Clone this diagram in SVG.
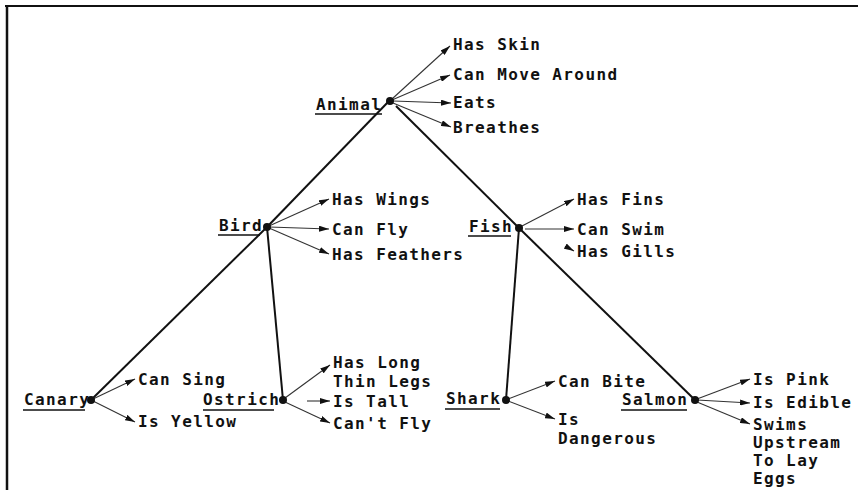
<svg xmlns="http://www.w3.org/2000/svg" width="858" height="490" viewBox="0 0 858 490">
<defs>
<marker id="ah" viewBox="0 0 10 6" refX="10" refY="3" markerWidth="10" markerHeight="6" markerUnits="userSpaceOnUse" orient="auto">
<path d="M0,0 L10,3 L0,6 z" fill="#111"/>
</marker>
<style>
text{font-family:"DejaVu Sans Mono","Liberation Mono",monospace;font-size:16px;font-weight:bold;letter-spacing:1.4px;fill:#111}
.edge{stroke:#111;stroke-width:2;fill:none}
.attr{stroke:#333;stroke-width:1.1;fill:none;marker-end:url(#ah)}
.ul{stroke:#111;stroke-width:1.6}
.dot{fill:#111}
</style>
</defs>
<rect width="858" height="490" fill="#fff"/>
<g id="frame">
<line x1="5" y1="6" x2="858" y2="6" stroke="#111" stroke-width="2"/>
<line x1="7" y1="5" x2="7" y2="490" stroke="#111" stroke-width="2.5"/>
</g>
<g id="connectors">
<line class="edge" x1="390" y1="100" x2="267" y2="227"/>
<line class="edge" x1="267" y1="227" x2="91" y2="400"/>
<line class="edge" x1="396" y1="106" x2="519" y2="228"/>
<line class="edge" x1="519" y1="228" x2="695" y2="400"/>
<line class="edge" x1="267" y1="227" x2="283" y2="400"/>
<line class="edge" x1="519" y1="228" x2="506" y2="400"/>
<line class="attr" x1="392" y1="99" x2="450" y2="46"/>
<line class="attr" x1="392" y1="100" x2="450" y2="75"/>
<line class="attr" x1="393" y1="101" x2="451" y2="103"/>
<line class="attr" x1="393" y1="103" x2="451" y2="127"/>
<line class="attr" x1="269" y1="226" x2="329" y2="199"/>
<line class="attr" x1="269" y1="227" x2="329" y2="229"/>
<line class="attr" x1="269" y1="228" x2="329" y2="254"/>
<line class="attr" x1="522" y1="226" x2="574" y2="199"/>
<line class="attr" x1="525" y1="229" x2="574" y2="229"/>
<line class="attr" x1="565" y1="246" x2="574" y2="251"/>
<line class="attr" x1="93" y1="399" x2="135" y2="379"/>
<line class="attr" x1="93" y1="401" x2="135" y2="422"/>
<line class="attr" x1="285" y1="398" x2="330" y2="365"/>
<line class="attr" x1="307" y1="401" x2="330" y2="401"/>
<line class="attr" x1="285" y1="402" x2="330" y2="423"/>
<line class="attr" x1="508" y1="399" x2="555" y2="381"/>
<line class="attr" x1="508" y1="401" x2="555" y2="419"/>
<line class="attr" x1="697" y1="399" x2="750" y2="379"/>
<line class="attr" x1="697" y1="400" x2="750" y2="403"/>
<line class="attr" x1="697" y1="402" x2="750" y2="424"/>
</g>
<g id="animal">
<circle class="dot" cx="390" cy="101" r="4"/>
<text x="316" y="110">Animal</text>
<line class="ul" x1="315" y1="114" x2="382" y2="114"/>
<text x="453" y="50">Has Skin</text>
<text x="453" y="80">Can Move Around</text>
<text x="453" y="108">Eats</text>
<text x="453" y="133">Breathes</text>
</g>
<g id="bird">
<circle class="dot" cx="267" cy="227" r="4"/>
<text x="219" y="231">Bird</text>
<line class="ul" x1="218" y1="235" x2="260" y2="235"/>
<text x="332" y="205">Has Wings</text>
<text x="332" y="235">Can Fly</text>
<text x="332" y="260">Has Feathers</text>
</g>
<g id="fish">
<circle class="dot" cx="519" cy="228" r="4"/>
<text x="469" y="232">Fish</text>
<line class="ul" x1="468" y1="236" x2="511" y2="236"/>
<text x="577" y="205">Has Fins</text>
<text x="577" y="235">Can Swim</text>
<text x="577" y="257">Has Gills</text>
</g>
<g id="canary">
<circle class="dot" cx="91" cy="400" r="4"/>
<text x="24" y="405">Canary</text>
<line class="ul" x1="23" y1="410" x2="85" y2="410"/>
<text x="138" y="385">Can Sing</text>
<text x="138" y="427">Is Yellow</text>
</g>
<g id="ostrich">
<circle class="dot" cx="283" cy="400" r="4"/>
<text x="203" y="405">Ostrich</text>
<line class="ul" x1="203" y1="410" x2="274" y2="410"/>
<text x="333" y="368">Has Long</text>
<text x="333" y="387">Thin Legs</text>
<text x="333" y="407">Is Tall</text>
<text x="333" y="429">Can't Fly</text>
</g>
<g id="shark">
<circle class="dot" cx="506" cy="400" r="4"/>
<text x="446" y="404">Shark</text>
<line class="ul" x1="445" y1="409" x2="500" y2="409"/>
<text x="558" y="387">Can Bite</text>
<text x="558" y="425">Is</text>
<text x="558" y="444">Dangerous</text>
</g>
<g id="salmon">
<circle class="dot" cx="695" cy="400" r="4"/>
<text x="622" y="405">Salmon</text>
<line class="ul" x1="621" y1="410" x2="687" y2="410"/>
<text x="753" y="385">Is Pink</text>
<text x="753" y="408">Is Edible</text>
<text x="753" y="430">Swims</text>
<text x="753" y="448">Upstream</text>
<text x="753" y="466">To Lay</text>
<text x="753" y="484">Eggs</text>
</g>
</svg>
